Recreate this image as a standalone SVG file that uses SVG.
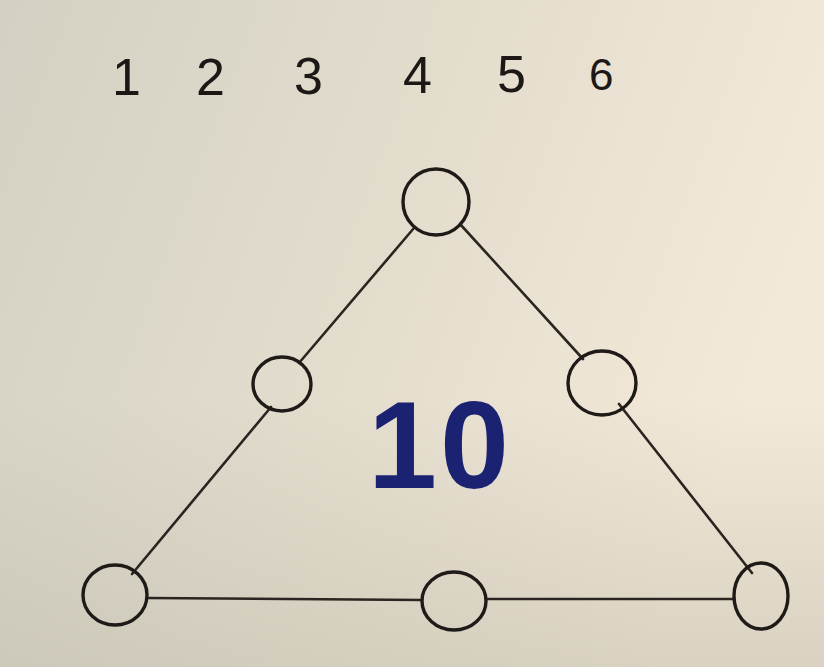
<svg xmlns="http://www.w3.org/2000/svg" width="824" height="667" viewBox="0 0 824 667">
<defs>
<linearGradient id="bg" x1="0" y1="0" x2="1" y2="0.3">
<stop offset="0" stop-color="#d3d1c3"/>
<stop offset="0.5" stop-color="#e2dccd"/>
<stop offset="1" stop-color="#f3e9d8"/>
</linearGradient>
<linearGradient id="shade" x1="0" y1="0" x2="0" y2="1">
<stop offset="0.6" stop-color="#bfbbab" stop-opacity="0"/>
<stop offset="1" stop-color="#bfbbab" stop-opacity="0.5"/>
</linearGradient>
<style>
.n{fill:none;stroke:#1e1a17;stroke-width:3.4}
.e{stroke:#2a2520;stroke-width:2.6;fill:none;stroke-linecap:round}
.d{font-family:"Liberation Sans",Arial,sans-serif;font-size:52px;fill:#1b1815}
.big{font-family:"Liberation Sans",Arial,sans-serif;font-size:124px;font-weight:bold;fill:#1c2272}
</style>
</defs>
<rect width="824" height="667" fill="url(#bg)"/>
<rect width="824" height="667" fill="url(#shade)"/>
<text class="d"><tspan x="112" y="95">1</tspan><tspan x="196" y="95">2</tspan><tspan x="294" y="94">3</tspan><tspan x="403" y="93">4</tspan><tspan x="497" y="92">5</tspan><tspan x="589" y="90" font-size="44">6</tspan></text>
<g id="connectors">
<line class="e" x1="414" y1="228" x2="299" y2="363"/>
<line class="e" x1="271" y1="407" x2="132" y2="574"/>
<line class="e" x1="460" y1="224" x2="583" y2="359"/>
<line class="e" x1="619" y1="404" x2="752" y2="573"/>
<line class="e" x1="148" y1="598" x2="422" y2="600"/>
<line class="e" x1="486" y1="599" x2="733" y2="599"/>
</g>
<g id="n1"><ellipse class="n" cx="436" cy="202" rx="33" ry="33"/></g>
<g id="n2"><ellipse class="n" cx="282" cy="384" rx="29" ry="27"/></g>
<g id="n3"><ellipse class="n" cx="602" cy="383" rx="34" ry="32"/></g>
<g id="n4"><ellipse class="n" cx="115" cy="595" rx="32" ry="30"/></g>
<g id="n5"><ellipse class="n" cx="454" cy="601" rx="32" ry="29"/></g>
<g id="n6"><ellipse class="n" cx="761" cy="596" rx="27" ry="33"/></g>
<text class="big" y="488"><tspan x="368">1</tspan><tspan x="440">0</tspan></text>
</svg>
